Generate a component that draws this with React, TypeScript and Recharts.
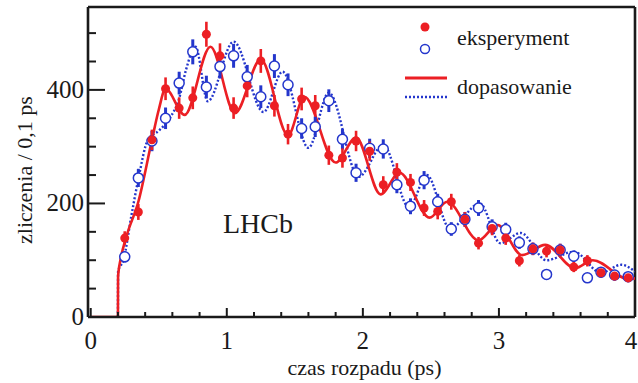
import React from 'react';
import {
  ComposedChart,
  Line,
  Scatter,
  ErrorBar,
  XAxis,
  YAxis,
  ReferenceLine
} from 'recharts';

const RED = '#ec1f24';
const BLUE = '#2436cc';
const INK = '#1a1a1a';
const FONT = '"Liberation Serif", "Times New Roman", serif';

// bin centres (ps)
const binTimes = [
  0.25, 0.35, 0.45, 0.55, 0.65, 0.75, 0.85, 0.95, 1.05, 1.15,
  1.25, 1.35, 1.45, 1.55, 1.65, 1.75, 1.85, 1.95, 2.05, 2.15,
  2.25, 2.35, 2.45, 2.55, 2.65, 2.75, 2.85, 2.95, 3.05, 3.15,
  3.25, 3.35, 3.45, 3.55, 3.65, 3.75, 3.85, 3.95
];

// eksperyment, filled red
const redCounts = [
  139, 185, 312, 402, 368, 386, 498, 460, 368, 407,
  451, 372, 322, 384, 372, 285, 280, 310, 292, 233,
  255, 237, 192, 186, 203, 172, 130, 156, 139, 99,
  120, 116, 118, 88, 99, 78, 72, 69
];
const redErrors = [
  12, 14, 18, 20, 19, 20, 22, 22, 19, 20,
  21, 19, 18, 20, 19, 17, 17, 18, 17, 15,
  16, 15, 14, 14, 14, 13, 11, 12, 12, 10,
  11, 11, 11, 9, 10, 9, 8, 8
];

// eksperyment, open blue
const blueCounts = [
  106, 245, 310, 350, 412, 467, 405, 441, 460, 423,
  388, 442, 409, 332, 335, 381, 313, 254, 297, 296,
  233, 195, 241, 203, 155, 172, 192, 159, 154, 131,
  120, 75, 118, 107, 69, 79, 74, 71
];
const blueErrors = [
  10, 16, 18, 19, 20, 22, 20, 21, 21, 21,
  20, 21, 20, 18, 18, 20, 18, 16, 17, 17,
  15, 14, 16, 14, 12, 13, 14, 13, 12, 11,
  11, 9, 11, 10, 8, 9, 9, 8
];

// dopasowanie (fit curves)
const redFitTimes = [
  0, 0.2, 0.201, 0.22, 0.26, 0.35, 0.45, 0.5, 0.55, 0.69,
  0.88, 1.06, 1.25, 1.45, 1.57, 1.8, 1.95, 2.13, 2.27, 2.49,
  2.62, 2.85, 2.99, 3.17, 3.34, 3.56, 3.69, 3.95, 4.0
];
const redFitCounts = [
  0, 0, 72, 102, 140, 203, 312, 365, 402, 356,
  476, 359, 454, 320, 388, 272, 316, 216, 254, 175,
  203, 135, 162, 109, 127, 86, 100, 67, 68
];

const blueFitTimes = [
  0.2, 0.201, 0.24, 0.3, 0.35, 0.42, 0.5, 0.58, 0.65, 0.7,
  0.77, 0.86, 1.05, 1.27, 1.41, 1.6, 1.75, 1.97, 2.15, 2.34,
  2.47, 2.64, 2.86, 3.01, 3.16, 3.35, 3.55, 3.75, 3.9, 4.0
];
const blueFitCounts = [
  0, 80, 100, 180, 243, 312, 328, 350, 385, 435,
  476, 380, 485, 361, 432, 298, 395, 247, 303, 193,
  250, 156, 200, 130, 148, 100, 115, 78, 92, 80
];

const xTicks = [0, 0.2, 0.4, 0.6, 0.8, 1, 1.2, 1.4, 1.6, 1.8, 2, 2.2, 2.4, 2.6, 2.8, 3, 3.2, 3.4, 3.6, 3.8, 4];
const yTicks = [0, 50, 100, 150, 200, 250, 300, 350, 400, 450, 500];
const majorY = [0, 200, 400];
const majorX = [0, 1, 2, 3, 4];

const redPoints = binTimes.map((x, i) => ({ x, y: redCounts[i], err: redErrors[i] }));
const bluePoints = binTimes.map((x, i) => ({ x, y: blueCounts[i], err: blueErrors[i] }));
const redFit = redFitTimes.map((x, i) => ({ x, y: redFitCounts[i] }));
const blueFit = blueFitTimes.map((x, i) => ({ x, y: blueFitCounts[i] }));

const YTick = (props: any) => {
  const { x, y, payload } = props;
  const major = majorY.includes(payload.value);
  return (
    <g>
      <line x1={x} x2={x + (major ? 17 : 8)} y1={y} y2={y} stroke={INK} strokeWidth={2} />
      {major && (
        <text x={x - 4} y={y + 8} textAnchor="end" fontSize={25} fontFamily={FONT} fill={INK}>
          {payload.value}
        </text>
      )}
    </g>
  );
};

const XTick = (props: any) => {
  const { x, y, payload } = props;
  const major = majorX.includes(payload.value);
  const last = payload.value === 4;
  return (
    <g>
      <line x1={x} x2={x} y1={y} y2={y - (major ? 9 : 5)} stroke={INK} strokeWidth={2} />
      {major && (
        <text x={last ? x - 4 : x} y={y + 32} textAnchor="middle" fontSize={25} fontFamily={FONT} fill={INK}>
          {payload.value}
        </text>
      )}
    </g>
  );
};

const yTitle = (props: any) => {
  const { x, y, height } = props.viewBox;
  return (
    <text
      transform={`translate(${x + 32},${y + height / 2 + 8}) rotate(-90)`}
      textAnchor="middle"
      fontSize={22}
      fontFamily={FONT}
      fill={INK}
    >
      zliczenia / 0,1 ps
    </text>
  );
};

const xTitle = (props: any) => {
  const { x, y, width } = props.viewBox;
  return (
    <text x={x + width / 2 + 3} y={y + 58} textAnchor="middle" fontSize={22} fontFamily={FONT} fill={INK}>
      czas rozpadu (ps)
    </text>
  );
};

const RedDot = (p: any) => <circle cx={p.cx} cy={p.cy} r={4.5} fill={RED} />;
const BlueRing = (p: any) => (
  <circle cx={p.cx} cy={p.cy} r={5} fill="#fff" stroke={BLUE} strokeWidth={1.5} />
);

export default function App() {
  return (
    <div style={{ position: 'fixed', left: 0, top: 0, width: 638, height: 383, background: '#fff' }}>
      <ComposedChart width={638} height={383} margin={{ top: 7, right: 3, left: 0, bottom: 0 }}>
        <XAxis
          type="number"
          dataKey="x"
          domain={[-0.02, 4]}
          ticks={xTicks}
          interval={0}
          tick={<XTick />}
          tickSize={0}
          tickMargin={0}
          tickLine={false}
          height={66}
          axisLine={{ stroke: INK, strokeWidth: 2.6 }}
          label={xTitle}
          allowDataOverflow
        />
        <YAxis
          type="number"
          domain={[0, 546]}
          ticks={yTicks}
          interval={0}
          tick={<YTick />}
          tickSize={0}
          tickMargin={0}
          tickLine={false}
          width={88}
          axisLine={{ stroke: INK, strokeWidth: 2.6 }}
          label={yTitle}
          allowDataOverflow
        />
        <ReferenceLine y={546} stroke={INK} strokeWidth={2.6} />
        <ReferenceLine x={4} stroke={INK} strokeWidth={2.6} />

        <Line
          data={blueFit}
          dataKey="y"
          type="monotone"
          stroke={BLUE}
          strokeWidth={2.4}
          strokeDasharray="2 2"
          dot={false}
          isAnimationActive={false}
        />
        <Line
          data={redFit}
          dataKey="y"
          type="monotone"
          stroke={RED}
          strokeWidth={2.6}
          dot={false}
          isAnimationActive={false}
        />
        <Scatter data={bluePoints} dataKey="y" shape={BlueRing} isAnimationActive={false}>
          <ErrorBar dataKey="err" direction="y" width={0} stroke={BLUE} strokeWidth={3} />
        </Scatter>
        <Scatter data={redPoints} dataKey="y" shape={RedDot} isAnimationActive={false}>
          <ErrorBar dataKey="err" direction="y" width={0} stroke={RED} strokeWidth={2.6} />
        </Scatter>
      </ComposedChart>

      <svg
        width={638}
        height={383}
        style={{ position: 'absolute', left: 0, top: 0, pointerEvents: 'none' }}
      >
        <circle cx={425} cy={27} r={4.5} fill={RED} />
        <circle cx={425} cy={49} r={4.5} fill="#fff" stroke={BLUE} strokeWidth={1.5} />
        <text x={457} y={45} fontSize={22} fontFamily={FONT} fill={INK}>eksperyment</text>
        <line x1={405} x2={447} y1={78} y2={78} stroke={RED} strokeWidth={3} />
        <line x1={405} x2={447} y1={97} y2={97} stroke={BLUE} strokeWidth={2.4} strokeDasharray="2 2" />
        <text x={457} y={94} fontSize={22} fontFamily={FONT} fill={INK}>dopasowanie</text>
        <text x={223} y={233} fontSize={28} fontFamily={FONT} fill={INK}>LHCb</text>
      </svg>
    </div>
  );
}
